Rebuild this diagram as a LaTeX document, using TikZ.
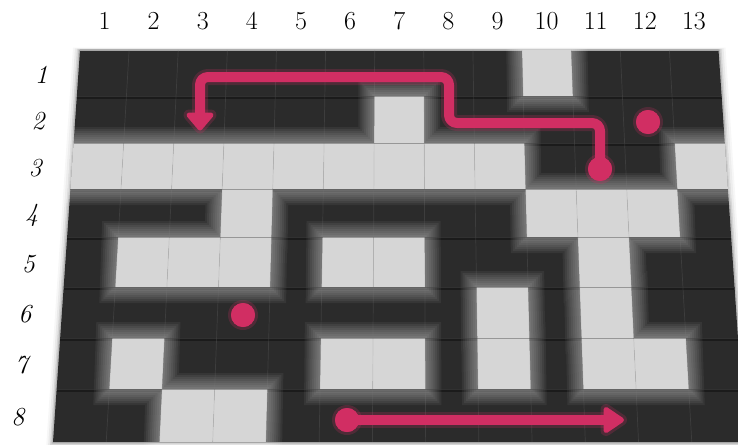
\documentclass[tikz,border=0pt]{standalone}
\usetikzlibrary{calc}
\definecolor{darkcell}{HTML}{2B2B2B}
\definecolor{lightcell}{HTML}{D6D6D6}
\definecolor{pathred}{HTML}{D12E63}
\tikzset{
  lbl/.style={font=\fontsize{26}{30}\selectfont, inner sep=0pt},
  rowlbl/.style={font=\fontsize{26}{30}\selectfont\itshape, inner sep=0pt},
  route/.style={draw=pathred, line width=10pt, line cap=round, line join=round},
  routeglow/.style={draw=pathred, line width=16pt, opacity=0.22, line cap=round, line join=round},
  roundbends/.style={rounded corners=8pt},
  dot/.style={circle, fill=pathred, minimum size=24pt, inner sep=0pt},
  arrowhead/.style={fill=pathred, draw=pathred, line width=5pt, line join=round},
  arrowglow/.style={fill=pathred, draw=pathred, line width=11pt, line join=round, opacity=0.22},
}
\begin{document}
\begin{tikzpicture}[x=1pt,y=-1pt]
\useasboundingbox (0,0) rectangle (738,444);
\clip (0,0) rectangle (738,444);
\fill[white] (0,0) rectangle (738,444);
% grid corner coordinates
\foreach \i/\y in {0/50,1/96,2/143,3/189,4/237,5/287,6/338,7/389,8/442} {
  \pgfmathsetmacro\xl{80-27*(\y-50)/392}
  \pgfmathsetmacro\xr{718.5+26.5*(\y-50)/392}
  \foreach \j in {0,...,13} {
    \coordinate (p-\i-\j) at ({\xl+\j*(\xr-\xl)/13},\y);
  }
}
\def\lightcells{1/10,2/7,3/1,3/2,3/3,3/4,3/5,3/6,3/7,3/8,3/9,3/13,4/4,4/10,4/11,4/12,5/2,5/3,5/4,5/6,5/7,5/11,6/9,6/11,7/2,7/6,7/7,7/9,7/11,7/12,8/3,8/4}
% board shadow
\foreach \d/\o in {1.5/0.14,3/0.09,5/0.05,7/0.03}
  \fill[black, opacity=\o] ($(p-0-0)+(-\d,-\d/3)$) -- ($(p-0-13)+(\d,-\d/3)$) -- ($(p-8-13)+(\d,\d)$) -- ($(p-8-0)+(-\d,\d)$) -- cycle;
% board
\fill[darkcell] (p-0-0) -- (p-0-13) -- (p-8-13) -- (p-8-0) -- cycle;
\draw[gray!70, line width=0.8pt] (p-0-0) -- (p-0-13);
% row shading bands
\foreach \i in {1,...,7} {
  \draw[black, opacity=0.35, line width=3pt] ($(p-\i-0)+(0,1.5)$) -- ($(p-\i-13)+(0,1.5)$);
}
% glow of light cells: one union path per layer
\foreach \d in {2,4,...,16} {
  \fill[white, opacity=0.055, nonzero rule]
    \foreach \r/\c [evaluate=\r as \ra using int(\r-1), evaluate=\c as \ca using int(\c-1)] in \lightcells {
      ($(p-\ra-\ca)+(-\d,-\d)$) -- ($(p-\ra-\c)+(\d,-\d)$) -- ($(p-\r-\c)+(\d,\d)$) -- ($(p-\r-\ca)+(-\d,\d)$) -- cycle
    };
}
% light cells
\foreach \r/\c [evaluate=\r as \ra using int(\r-1), evaluate=\c as \ca using int(\c-1)] in \lightcells {
  \fill[lightcell] (p-\ra-\ca) -- (p-\ra-\c) -- (p-\r-\c) -- (p-\r-\ca) -- cycle;
}
% grid lines
\foreach \j in {1,...,12}
  \draw[gray, opacity=0.22, line width=0.7pt] (p-0-\j) -- (p-8-\j);
\foreach \i in {1,...,7}
  \draw[gray!60!black, opacity=0.45, line width=0.7pt] (p-\i-0) -- (p-\i-13);
\draw[gray!70, line width=0.8pt] (p-8-0) -- (p-8-13);
% column labels
\foreach \j [evaluate=\j as \ja using int(\j-1)] in {1,...,13} {
  \node[lbl] (col-\j) at ($($(p-0-\ja)!0.5!(p-0-\j)$)+(0,-29)$) {\j};
}
% row labels
\foreach \i [evaluate=\i as \ia using int(\i-1)] in {1,...,8} {
  \node[rowlbl] (row-\i) at ($($(p-\ia-0)!0.5!(p-\i-0)$)+(-37,2)$) {\i};
}
% route coordinates
\coordinate (c1) at (600,123);
\coordinate (c2) at (449,123);
\coordinate (c3) at (449,77);
\coordinate (c4) at (200,77);
\coordinate (e1) at (200,117);
\coordinate (e2) at (610,420);
% arrowhead corners
\coordinate (t1) at (200,128);
\coordinate (t1a) at (189,115);
\coordinate (t1b) at (211,115);
\coordinate (t2) at (621.5,420);
\coordinate (t2a) at (606,409.5);
\coordinate (t2b) at (606,430.5);
% dots
\node[dot] (s1) at (600,169) {};
\node[dot] (d1) at (648,122) {};
\node[dot] (d2) at (243,315) {};
\node[dot] (s2) at (347,420) {};
% glows
\draw[routeglow, roundbends] (s1.center) -- (c1) -- (c2) -- (c3) -- (c4) -- (e1);
\draw[routeglow] (s2.center) -- (e2);
\filldraw[arrowglow] (t1) -- (t1a) -- (t1b) -- cycle;
\filldraw[arrowglow] (t2) -- (t2a) -- (t2b) -- cycle;
\foreach \n in {s1,d1,d2,s2}
  \fill[pathred, opacity=0.22] (\n.center) circle (15pt);
% routes
\draw[route, roundbends] (s1.center) -- (c1) -- (c2) -- (c3) -- (c4) -- (e1);
\draw[route] (s2.center) -- (e2);
\filldraw[arrowhead] (t1) -- (t1a) -- (t1b) -- cycle;
\filldraw[arrowhead] (t2) -- (t2a) -- (t2b) -- cycle;
\foreach \n in {s1,d1,d2,s2}
  \fill[pathred] (\n.center) circle (12pt);
\end{tikzpicture}
\end{document}
